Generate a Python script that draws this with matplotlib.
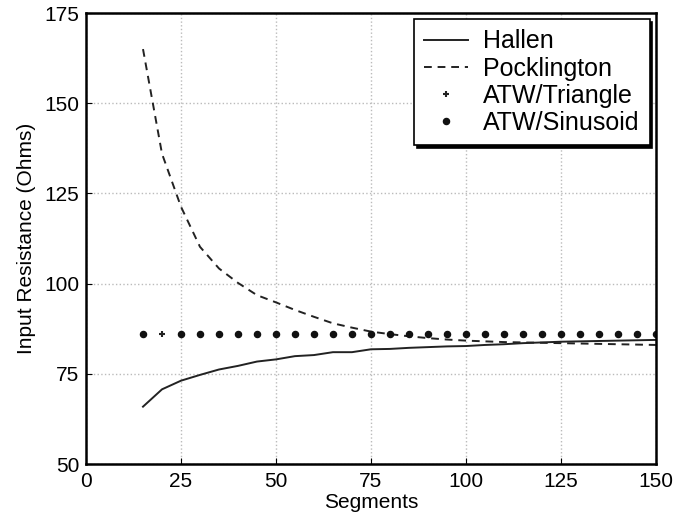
import matplotlib
matplotlib.use("Agg")
import matplotlib.pyplot as plt
import numpy as np

plt.rcParams['font.family'] = ['Liberation Sans', 'DejaVu Sans']

# data
segments = [15, 20, 25, 30, 35, 40, 45, 50, 55, 60, 65, 70, 75, 80, 85, 90,
            95, 100, 105, 110, 115, 120, 125, 130, 135, 140, 145, 150]
hallen = [65.9, 70.7, 73.1, 74.7, 76.2, 77.2, 78.4, 79.0, 79.9, 80.2, 81.0, 81.0,
          81.8, 81.9, 82.2, 82.4, 82.6, 82.7, 83.0, 83.2, 83.5, 83.7, 83.9,
          84.0, 84.1, 84.2, 84.3, 84.4]
pocklington = [165.0, 136.0, 121.3, 110.2, 104.2, 100.2, 96.8, 94.8, 92.7, 90.8,
               89.0, 87.8, 86.7, 86.0, 85.4, 84.9, 84.5, 84.2, 84.0, 83.8, 83.7,
               83.6, 83.5, 83.4, 83.3, 83.2, 83.1, 83.0]
atw_triangle = [86.0] * len(segments)
atw_sinusoid = [86.0, np.nan] + [86.0] * (len(segments) - 2)

fig = plt.figure(figsize=(6.8, 5.27), dpi=100)
ax = fig.add_axes([0.1265, 0.1195, 0.838, 0.8558])

ax.plot(segments, hallen, '-', color='#222222', lw=1.4, label='Hallen')
ax.plot(segments, pocklington, '--', color='#222222', lw=1.4, dashes=(4, 3),
        label='Pocklington')
ax.plot(segments, atw_triangle, '+', color='#222222', ms=5, mew=1.5,
        linestyle='none', label='ATW/Triangle')
ax.plot(segments, atw_sinusoid, 'o', color='#111111', ms=4.4,
        linestyle='none', label='ATW/Sinusoid')

ax.set_xlim(0, 150)
ax.set_ylim(50, 175)
ax.set_xticks(range(0, 151, 25))
ax.set_yticks(range(50, 176, 25))
ax.tick_params(direction='in', labelsize=15, length=4)
ax.tick_params(axis='x', pad=6)
ax.tick_params(axis='y', pad=5)
ax.grid(True, linestyle=':', color='#bbbbbb', lw=1)
for s in ax.spines.values():
    s.set_linewidth(1.8)

ax.set_xlabel('Segments', fontsize=15, labelpad=1)
ax.set_ylabel('Input Resistance (Ohms)', fontsize=15, labelpad=6)

leg = ax.legend(loc='upper right', fontsize=18, frameon=True, fancybox=False,
                edgecolor='black', framealpha=1, borderpad=0.4,
                labelspacing=0.13, handlelength=1.75, handletextpad=0.6,
                borderaxespad=0.25,
                shadow={'color': 'black', 'alpha': 1})
leg.get_frame().set_linewidth(1.2)

fig.savefig('out.png', dpi=100)
